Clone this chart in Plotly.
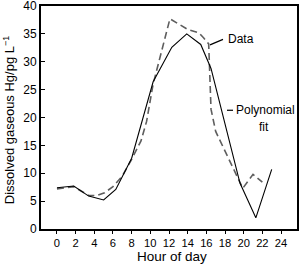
import plotly.graph_objects as go

# Measured data (dashed)
data_hour = [0.0, 1.8, 3.4, 4.3, 5.1, 6.0, 7.0, 8.0, 9.0, 9.6, 10.3, 12.1, 14.0, 15.2, 15.7, 16.25, 16.5, 17.0, 19.9, 21.0, 22.0]
data_hg = [7.2, 7.6, 6.0, 6.0, 6.5, 7.6, 9.5, 12.5, 15.8, 19.3, 26.0, 37.7, 35.8, 35.2, 34.3, 33.2, 21.5, 17.5, 7.3, 9.8, 8.4]

# Polynomial fit (solid)
fit_hour = [0.0, 1.8, 3.4, 5.0, 6.3, 8.0, 10.3, 12.3, 13.9, 15.4, 16.5, 19.6, 21.3, 23.0]
fit_hg = [7.4, 7.7, 5.9, 5.2, 7.1, 12.7, 26.4, 32.6, 35.0, 33.1, 28.8, 8.25, 2.0, 10.7]

x_ticks = list(range(0, 25, 2))
y_ticks = [0, 5, 10, 15, 20, 25, 30, 35, 40]

fig = go.Figure()
fig.add_trace(go.Scatter(x=data_hour, y=data_hg, mode="lines",
                         line=dict(color="#5e5e5e", width=1.6, dash="7px,4px"),
                         showlegend=False, hoverinfo="skip"))
fig.add_trace(go.Scatter(x=fit_hour, y=fit_hg, mode="lines",
                         line=dict(color="#000000", width=1.1),
                         showlegend=False, hoverinfo="skip"))

font = dict(family="Liberation Sans, Arial, sans-serif", size=12, color="#000")

pl, pr, pt, pb = 41, 297, 6, 229.5

fig.update_layout(
    width=302, height=266,
    margin=dict(l=pl, r=302 - pr, t=pt, b=266 - pb, autoexpand=False),
    paper_bgcolor="white", plot_bgcolor="white",
    font=font,
    xaxis=dict(range=[-1.71, 25.71], tickvals=x_ticks, ticktext=[str(v) for v in x_ticks],
               showgrid=False, zeroline=False, showline=True, linecolor="black", linewidth=2,
               mirror=True, ticks="outside", ticklen=3, tickwidth=1, tickcolor="black",
               automargin=False, ticklabeloverflow="allow",
               tickfont=dict(size=11.2)),
    yaxis=dict(range=[0, 40], tickvals=y_ticks, ticktext=[str(v) for v in y_ticks],
               showgrid=False, zeroline=False, showline=True, linecolor="black", linewidth=2,
               mirror=True, ticks="inside", ticklen=4, tickwidth=1, tickcolor="black",
               automargin=False, ticklabeloverflow="allow",
               tickfont=dict(size=12)),
)

def px(x):
    return (x - pl) / (pr - pl)
def py(y):
    return 1 - (y - pt) / (pb - pt)

# axis titles
fig.add_annotation(x=px(171.7), y=py(257.5), xref="paper", yref="paper", text="Hour of day",
                   showarrow=False, xanchor="center", yanchor="middle", font=dict(size=13.5))
fig.add_annotation(x=px(8.5), y=py(120), xref="paper", yref="paper",
                   text="Dissolved gaseous Hg/pg L<sup>\u22121</sup>", textangle=-90,
                   showarrow=False, xanchor="center", yanchor="middle", font=dict(size=13))

fig.add_annotation(x=px(226), y=py(39), xref="paper", yref="paper", text="Data", showarrow=False,
                   xanchor="left", yanchor="middle", font=dict(size=12))
fig.add_annotation(x=px(234), y=py(110), xref="paper", yref="paper", text="Polynomial", showarrow=False,
                   xanchor="left", yanchor="middle", font=dict(size=12))
fig.add_annotation(x=px(264), y=py(127), xref="paper", yref="paper", text="fit", showarrow=False,
                   xanchor="center", yanchor="middle", font=dict(size=12))

fig.add_shape(type="line", xref="paper", yref="paper",
              x0=px(210), y0=py(45), x1=px(223), y1=py(39.5),
              line=dict(color="black", width=1.2))
fig.add_shape(type="line", xref="paper", yref="paper",
              x0=px(227), y0=py(110.5), x1=px(233), y1=py(110.5),
              line=dict(color="black", width=1.2))

fig.write_html("out.html", config={"displayModeBar": False},
               post_script="document.body.style.margin='0';document.body.style.padding='0';document.body.style.overflow='hidden';")
